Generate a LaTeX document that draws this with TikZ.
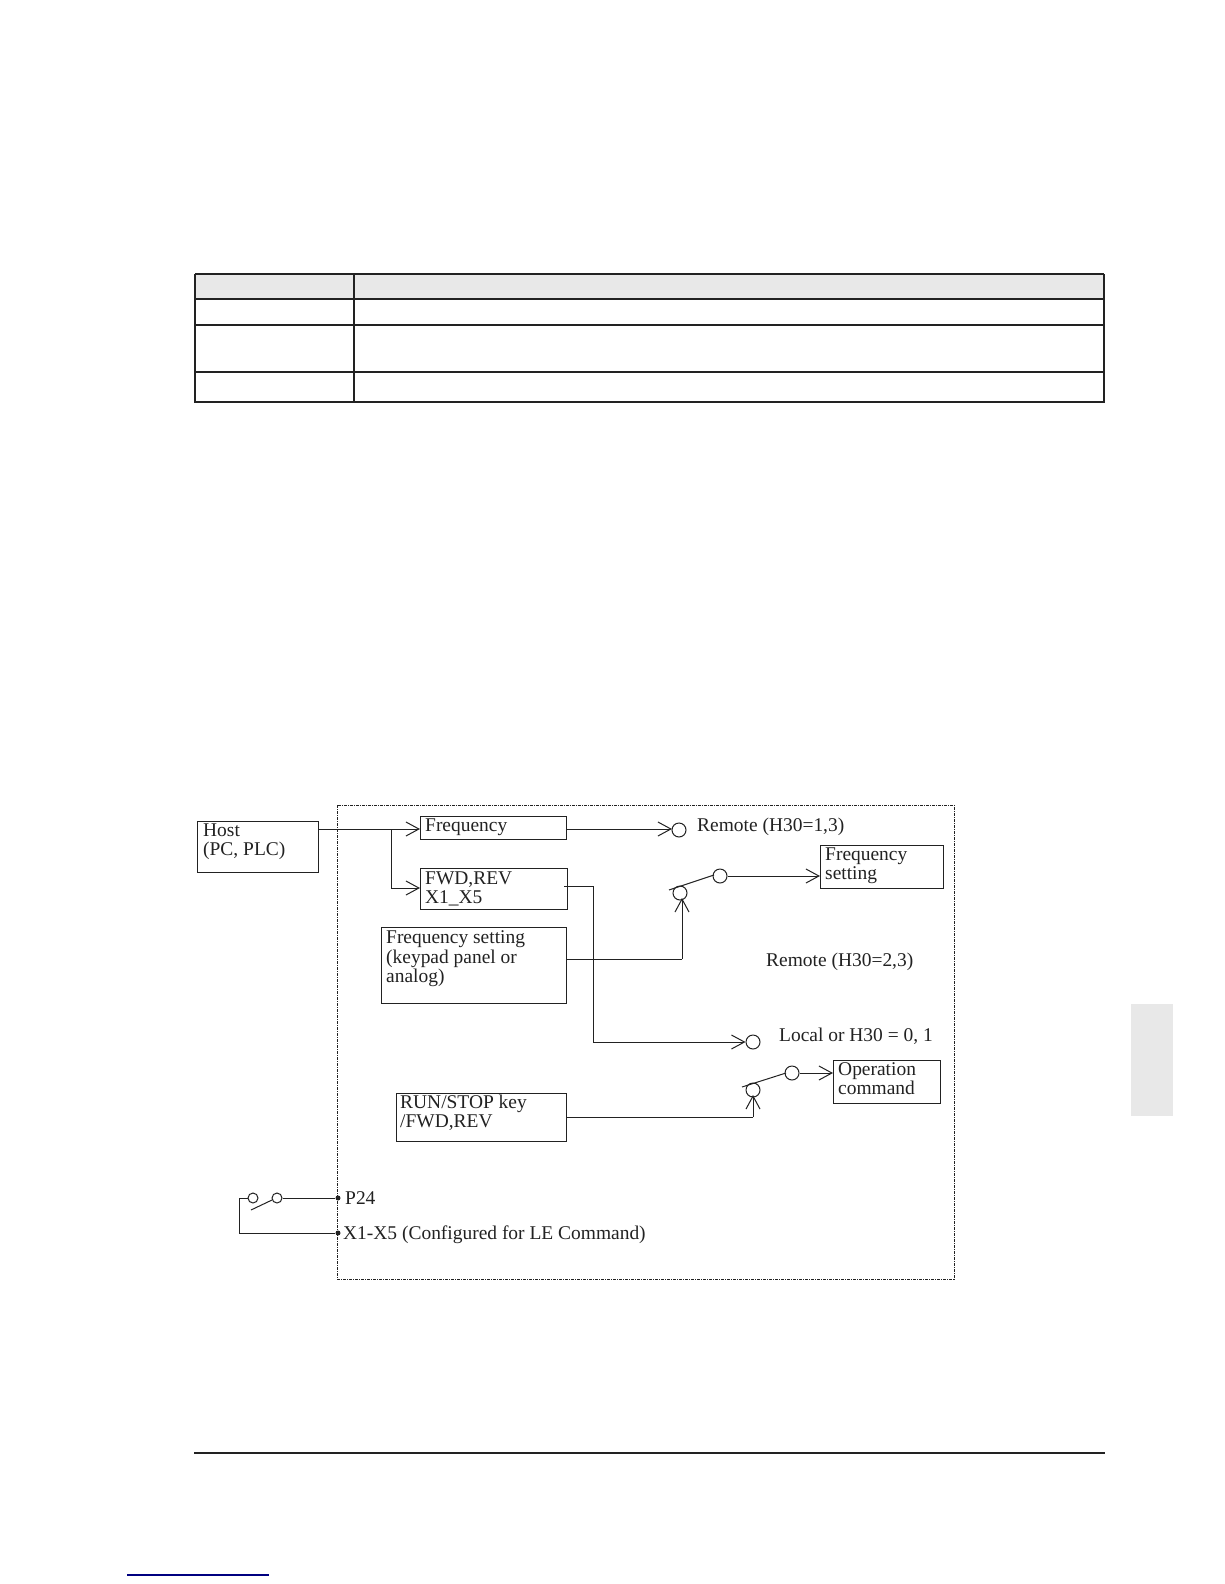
\documentclass[tikz,border=0pt]{standalone}
\usepackage{fontspec}
\setmainfont{Liberation Serif}
\usetikzlibrary{arrows.meta}
\definecolor{ink}{HTML}{222222}
\definecolor{tabgrey}{HTML}{E8E8E8}
\tikzset{
  x=1pt,y=-1pt,
  boxn/.style={draw=ink,line width=1.1pt,anchor=north west,inner sep=0pt},
  lab/.style={anchor=base west,inner sep=0pt,text=ink,font=\fontsize{19.45}{19.6}\selectfont,align=left},
  conn/.style={draw=ink,line width=1pt},
  arr/.style={conn,-{Straight Barb[length=13pt,width=14pt,line width=1pt]}},
  term/.style={draw=ink,line width=1pt,circle,minimum size=14pt,inner sep=0pt,fill=white},
  smallterm/.style={draw=ink,line width=1pt,circle,minimum size=10pt,inner sep=0pt,fill=white},
  dotn/.style={fill=ink,circle,minimum size=5pt,inner sep=0pt},
  tabrule/.style={draw=ink,line width=1.2pt},
  tabframe/.style={draw=ink,line width=2.2pt},
}
\newcommand{\bx}[5]{\node[boxn,minimum width=#4pt,minimum height=#5pt] (#1) at (#2,#3) {};}
\begin{document}
\begin{tikzpicture}
\useasboundingbox (0,0) rectangle (1224,1584);
\fill[white] (0,0) rectangle (1224,1584);

% table
\fill[tabgrey] (195,274) rectangle (1104,299);
\draw[tabrule] (195,299) -- (1104,299);
\draw[tabrule] (195,325) -- (1104,325);
\draw[tabrule] (195,372) -- (1104,372);
\draw[tabrule] (354,274) -- (354,402);
\draw[tabrule] (195,274) -- (1104,274);
\draw[tabframe] (1104,274) -- (1104,402) -- (195,402) -- (195,274);

% side tab, rules
\fill[tabgrey] (1131,1004) rectangle (1173,1116);
\draw[draw=ink,line width=1.4pt] (194,1453) -- (1105,1453);
\draw[draw=blue!50!black,line width=1.2pt] (127,1575) -- (269,1575);

% dashed frame
\draw[ink,line width=1pt,dash pattern=on 3pt off 1pt on 1pt off 1pt] (337,805) rectangle (954,1279);

% boxes
\bx{host}{197}{821}{121}{51}
\bx{freq}{420}{816}{146}{23}
\bx{fwd}{420}{868}{147}{41}
\bx{fset}{381}{927}{185}{76}
\bx{out}{820}{845}{123}{43}
\bx{op}{833}{1060}{107}{43}
\bx{run}{396}{1093}{170}{48}

% box texts
\node[lab] (thost) at (203,836) {Host};
\node[lab] (thost2) at (203,855) {(PC, PLC)};
\node[lab] (tfreq) at (425,831) {Frequency};
\node[lab] (tfwd) at (425,884) {FWD,REV};
\node[lab] (tfwd2) at (425,903) {X1\_X5};
\node[lab] (tfs1) at (386,943) {Frequency setting};
\node[lab] (tfs2) at (386,963) {(keypad panel or};
\node[lab] (tfs3) at (386,982) {analog)};
\node[lab] (tout1) at (825,860) {Frequency};
\node[lab] (tout2) at (825,879) {setting};
\node[lab] (top1) at (838,1075) {Operation};
\node[lab] (top2) at (838,1094) {command};
\node[lab] (trun1) at (400,1108) {RUN/STOP key};
\node[lab] (trun2) at (400,1127) {/FWD,REV};

% free labels
\node[lab] (lr1) at (697,831) {Remote (H30=1,3)};
\node[lab] (lr2) at (766,966) {Remote (H30=2,3)};
\node[lab] (ll) at (779,1041) {Local or H30 = 0, 1};
\node[lab] (lp) at (345,1204) {P24};
\node[lab] (lx) at (343,1239) {X1-X5 (Configured for LE Command)};

% terminals
\node[term] (c1) at (679,830) {};
\node[term] (c2) at (680,893) {};
\node[term] (c3) at (720,876) {};
\node[term] (c4) at (753,1042) {};
\node[term] (c5) at (753,1090) {};
\node[term] (c6) at (792,1073) {};
\node[smallterm] (s1) at (253,1198) {};
\node[smallterm] (s2) at (277,1198) {};
\node[dotn] (d1) at (338,1198) {};
\node[dotn] (d2) at (338,1233) {};

% named connector points
\coordinate (hostout) at (318,829);
\coordinate (branch) at (391,829);
\coordinate (fwdin) at (420,888);
\coordinate (freqin) at (420,829);
\coordinate (freqout) at (566,829);
\coordinate (c1in) at (672,829);
\coordinate (fwdout) at (564,886);
\coordinate (bus) at (593,886);
\coordinate (busend) at (593,1042);
\coordinate (fsout) at (566,959);
\coordinate (fsturn) at (682,959);
\coordinate (c2in) at (682,898);
\coordinate (lev1a) at (669,890);
\coordinate (lev1b) at (714,875);
\coordinate (outin) at (820,876);
\coordinate (runout) at (566,1117);
\coordinate (runturn) at (753,1117);
\coordinate (c5in) at (753,1095);
\coordinate (lev2a) at (742,1087);
\coordinate (lev2b) at (786,1073);
\coordinate (opin) at (833,1073);
\coordinate (swl) at (239,1198);
\coordinate (swb) at (239,1233);
\coordinate (lev3a) at (251,1210);
\coordinate (lev3b) at (272,1200);

% connectors
\draw[conn] (hostout) -- (branch);
\draw[arr] (branch) -- (freqin);
\draw[arr] (branch) |- (fwdin);
\draw[arr] (freqout) -- (c1in);
\draw[conn] (fwdout) -- (bus) -- (busend);
\draw[arr] (busend) -- (c4.west);
\draw[conn] (fsout) -- (fsturn);
\draw[arr] (fsturn) -- (c2in);
\draw[conn] (lev1a) -- (lev1b);
\draw[arr] (c3.east) -- (outin);
\draw[conn] (runout) -- (runturn);
\draw[arr] (runturn) -- (c5in);
\draw[conn] (lev2a) -- (lev2b);
\draw[arr] (c6.east) -- (opin);
\draw[conn] (s1.west) -- (swl) -- (swb) -- (d2);
\draw[conn] (s2.east) -- (d1);
\draw[conn] (lev3a) -- (lev3b);
\end{tikzpicture}
\end{document}
